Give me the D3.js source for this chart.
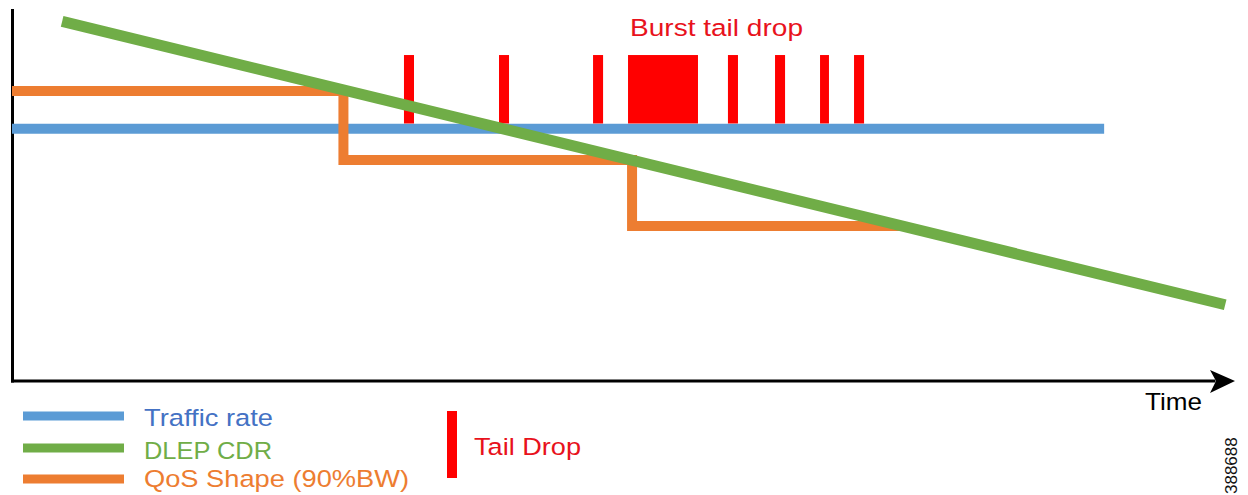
<!DOCTYPE html>
<html>
<head>
<meta charset="utf-8">
<script src="https://cdn.jsdelivr.net/npm/d3@7"></script>
<style>
  html, body { margin: 0; padding: 0; background: #ffffff; }
  svg { display: block; }
  text { font-family: "Liberation Sans", Arial, Helvetica, sans-serif; }
</style>
</head>
<body>
<svg id="chart" width="1248" height="495"></svg>
<script>
// ---- data (time units 0..100, rate units 0..100) ----
const trafficTimes = [0, 89.3];
const trafficValues = [68.2, 68.2];

const cdrTimes = [4.1, 99.2];
const cdrValues = [97.2, 20.6];

const qosTimes = [0, 27.1, 50.7, 73.0];
const qosValues = [78.4, 59.7, 41.9, 41.9];

const dropStarts = [32.05, 39.82, 47.51, 50.37, 58.54, 62.39, 66.07, 68.85];
const dropEnds   = [32.87, 40.64, 48.33, 56.09, 59.36, 63.21, 66.80, 69.67];
const dropTop = 88.1;
const dropBottom = 69.6;

const legendLabels = ["Traffic rate", "DLEP CDR", "QoS Shape (90%BW)"];
const dropLegendLabel = "Tail Drop";
const burstLabel = "Burst tail drop";
const xAxisLabel = "Time";
const figureId = "388688";

// ---- scales ----
const x = d3.scaleLinear().domain([0, 100]).range([12, 1235]);
const y = d3.scaleLinear().domain([0, 100]).range([381, 11]);

const svg = d3.select("#chart");

const colors = { traffic: "#5b9bd5", cdr: "#70ad47", qos: "#ed7d31", drop: "#ff0000" };

// ---- axes ----
svg.append("line")
  .attr("x1", x(0) + 0.5).attr("x2", x(0) + 0.5)
  .attr("y1", y(0) + 1.5).attr("y2", y(100) - 2)
  .attr("stroke", "#000").attr("stroke-width", 3);
svg.append("line")
  .attr("x1", x(0) - 1).attr("x2", x(98.4))
  .attr("y1", y(0)).attr("y2", y(0))
  .attr("stroke", "#000").attr("stroke-width", 3);
const tipX = x(100), tipY = y(0);
svg.append("path")
  .attr("d", `M${tipX},${tipY} L${tipX - 25},${tipY - 11} L${tipX - 19},${tipY} L${tipX - 25},${tipY + 12} Z`)
  .attr("fill", "#000");

// ---- series ----
const line = d3.line().x(d => x(d[0])).y(d => y(d[1]));

svg.append("path")
  .datum(trafficTimes.map((t, i) => [t, trafficValues[i]]))
  .attr("d", line)
  .attr("fill", "none").attr("stroke", colors.traffic).attr("stroke-width", 10);

svg.append("path")
  .datum(qosTimes.map((t, i) => [t, qosValues[i]]))
  .attr("d", line.curve(d3.curveStepAfter))
  .attr("fill", "none").attr("stroke", colors.qos).attr("stroke-width", 10)
  .attr("stroke-linejoin", "miter");
line.curve(d3.curveLinear);

svg.append("g").selectAll("rect")
  .data(dropStarts.map((s, i) => [s, dropEnds[i]]))
  .join("rect")
  .attr("x", d => x(d[0]))
  .attr("width", d => x(d[1]) - x(d[0]))
  .attr("y", y(dropTop))
  .attr("height", y(dropBottom) - y(dropTop))
  .attr("fill", colors.drop);

svg.append("path")
  .datum(cdrTimes.map((t, i) => [t, cdrValues[i]]))
  .attr("d", line)
  .attr("fill", "none").attr("stroke", colors.cdr).attr("stroke-width", 11);

// ---- annotations ----
svg.append("text")
  .attr("x", 630).attr("y", 36)
  .attr("font-size", 24.5)
  .attr("fill", "#e8121c")
  .attr("textLength", 173).attr("lengthAdjust", "spacingAndGlyphs")
  .text(burstLabel);

svg.append("text")
  .attr("x", 1145).attr("y", 410)
  .attr("font-size", 24.5)
  .attr("fill", "#000")
  .attr("textLength", 57).attr("lengthAdjust", "spacingAndGlyphs")
  .text(xAxisLabel);

svg.append("text")
  .attr("transform", "translate(1236.5,494) rotate(-90)")
  .attr("font-size", 17)
  .attr("fill", "#111")
  .text(figureId);

// ---- legend ----
const legendColors = [colors.traffic, colors.cdr, colors.qos];
const legendTextColors = ["#4472c4", "#70ad47", "#ed7d31"];
const legendLineY = [416, 448, 479];
const legendBaseY = [425.7, 459, 487];
const legendWidths = [129, 128, 265];

const lg = svg.append("g");
legendLabels.forEach((lab, i) => {
  lg.append("line")
    .attr("x1", 23).attr("x2", 124)
    .attr("y1", legendLineY[i]).attr("y2", legendLineY[i])
    .attr("stroke", legendColors[i]).attr("stroke-width", 9);
  lg.append("text")
    .attr("x", 144).attr("y", legendBaseY[i])
    .attr("font-size", 24.5)
    .attr("fill", legendTextColors[i])
    .attr("textLength", legendWidths[i]).attr("lengthAdjust", "spacingAndGlyphs")
    .text(lab);
});

lg.append("rect")
  .attr("x", 447).attr("y", 411).attr("width", 10).attr("height", 67)
  .attr("fill", colors.drop);
lg.append("text")
  .attr("x", 474).attr("y", 455)
  .attr("font-size", 24.5)
  .attr("fill", "#e8121c")
  .attr("textLength", 107).attr("lengthAdjust", "spacingAndGlyphs")
  .text(dropLegendLabel);
</script>
</body>
</html>
